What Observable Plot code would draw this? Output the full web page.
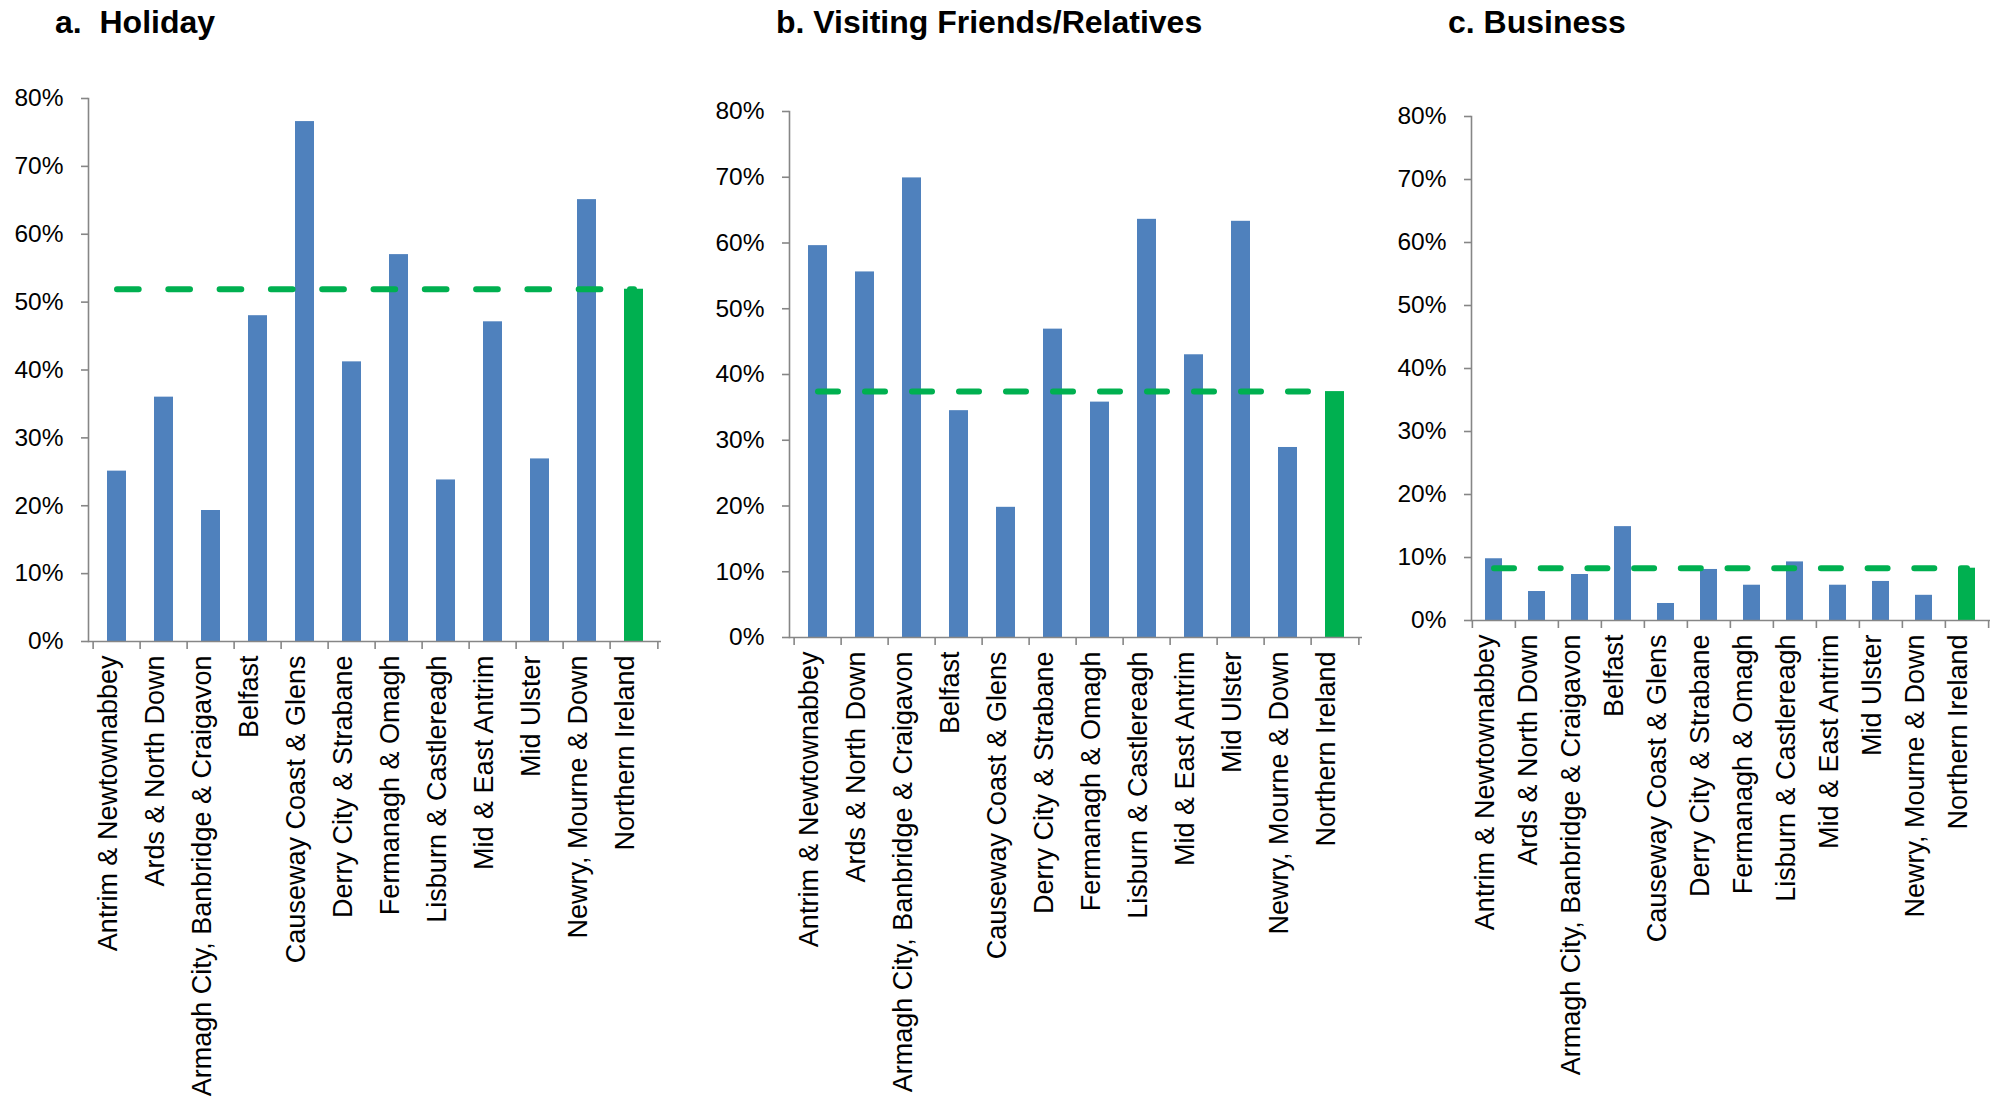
<!DOCTYPE html>
<html><head><meta charset="utf-8">
<script src="https://cdn.jsdelivr.net/npm/d3@7"></script>
<script src="https://cdn.jsdelivr.net/npm/@observablehq/plot@0.6"></script>
<style>
html,body{margin:0;padding:0;background:#fff;}
#root{position:relative;width:2000px;height:1097px;overflow:hidden;font-family:"Liberation Sans",Arial,sans-serif;}
.panel{position:absolute;top:0;}
.title{position:absolute;top:6px;font-weight:bold;font-size:32px;line-height:32px;white-space:pre;color:#000;}
</style></head><body><div id="root"></div>
<script>
const categories = [
  "Antrim & Newtownabbey", "Ards & North Down", "Armagh City, Banbridge & Craigavon",
  "Belfast", "Causeway Coast & Glens", "Derry City & Strabane", "Fermanagh & Omagh",
  "Lisburn & Castlereagh", "Mid & East Antrim", "Mid Ulster", "Newry, Mourne & Down",
  "Northern Ireland"
];
const holiday  = [25.1, 36.0, 19.3, 48.0, 76.6, 41.2, 57.0, 23.8, 47.1, 26.9, 65.1, 51.9];
const vfr      = [59.6, 55.6, 69.9, 34.5, 19.8, 46.9, 35.8, 63.6, 43.0, 63.3, 28.9, 37.4];
const business = [9.8, 4.6, 7.3, 14.9, 2.7, 8.1, 5.6, 9.3, 5.6, 6.2, 4.0, 8.3];
const yTicks = [0, 10, 20, 30, 40, 50, 60, 70, 80];
const titles = ["a.  Holiday", "b. Visiting Friends/Relatives", "c. Business"];
const seriesList = [holiday, vfr, business];

const BLUE = "#4F81BD", GREEN = "#00B050", GRAY = "#868686";
const FONT = "Liberation Sans, Arial, sans-serif";

const panels = [
  {left: 0,    width: 680, ml: 88,  mr: 19, mt: 98,  mb: 456, dash: "21.7,29.6", titleLeft: 55},
  {left: 700,  width: 680, ml: 89,  mr: 18, mt: 111, mb: 460, dash: "20,27",     titleLeft: 776},
  {left: 1370, width: 630, ml: 101, mr: 10, mt: 116, mb: 477, dash: "20,26.7",   titleLeft: 1448}
];

const root = document.getElementById("root");

panels.forEach((p, k) => {
  const values = seriesList[k];
  const rows = categories.map((c, i) => ({cat: c, value: values[i], avg: values[values.length - 1], ni: i === categories.length - 1}));
  const step = (p.width - p.ml - p.mr) / categories.length;
  const chart = Plot.plot({
    width: p.width,
    height: 1097,
    marginLeft: p.ml, marginRight: p.mr, marginTop: p.mt, marginBottom: p.mb,
    style: {background: "transparent", overflow: "visible", fontFamily: FONT, color: "#000"},
    x: {type: "band", domain: categories, paddingInner: 0.6, paddingOuter: 0.3, axis: null},
    y: {domain: [0, 80], axis: null},
    marks: [
      Plot.barY(rows, {x: "cat", y: "value", fill: d => d.ni ? GREEN : BLUE}),
      Plot.lineY(rows, {x: "cat", y: "avg", stroke: GREEN, strokeWidth: 6, strokeLinecap: "round", strokeDasharray: p.dash}),
      Plot.ruleY([0], {stroke: GRAY, strokeWidth: 1.6}),
      Plot.frame({anchor: "left", stroke: GRAY, strokeWidth: 1.6}),
      Plot.ruleX(categories, {x: d => d, y1: 0, y2: 0, dx: -step / 2, insetTop: 0, insetBottom: -8, stroke: GRAY, strokeWidth: 1.6}),
      Plot.ruleX(categories.slice(-1), {x: d => d, y1: 0, y2: 0, dx: step / 2, insetTop: 0, insetBottom: -8, stroke: GRAY, strokeWidth: 1.6}),
      Plot.axisY({ticks: yTicks, tickFormat: d => d + "%", tickSize: 7, tickPadding: 18, stroke: GRAY, strokeWidth: 1.6, fill: "#000", fontSize: 24.5, fontFamily: FONT}),
      Plot.text(categories, {x: d => d, frameAnchor: "bottom", dy: 14, rotate: -90, textAnchor: "end", fontSize: 27, fontFamily: FONT, fill: "#000"})
    ]
  });
  chart.classList.add("panel");
  chart.style.left = p.left + "px";
  root.appendChild(chart);

  const t = document.createElement("div");
  t.className = "title";
  t.style.left = p.titleLeft + "px";
  t.textContent = titles[k];
  root.appendChild(t);
});
</script>
</body></html>
